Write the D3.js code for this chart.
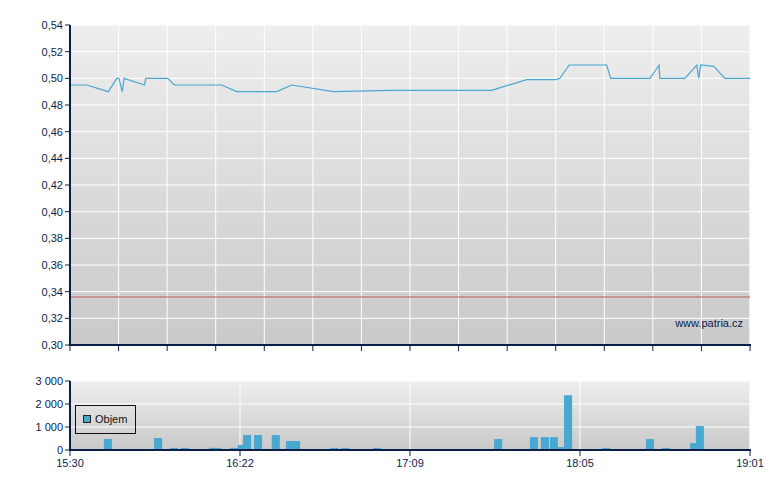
<!DOCTYPE html>
<html lang="en">
<head>
  <meta charset="UTF-8">
  <title>patria intraday</title>
  <script src="https://d3js.org/d3.v7.min.js"></script>
  <style>
    body { margin: 0; background: white; }
    text { font-family: "Liberation Sans", Arial, sans-serif; font-size: 11px; fill: #0a1e4a; }
    .grid { stroke: white; stroke-width: 1px; }
    .axis { stroke: #0a1e4a; stroke-width: 2px; }
    .tick { stroke: #0a1e4a; stroke-width: 1px; }
  </style>
</head>
<body>
  <svg id="chart" width="780" height="490"></svg>

  <script>
    // price line: minutes after 15:30 and price
    const priceMinutes = [0, 5.2, 11.9, 14.5, 15.2, 16.2, 16.8, 23.1, 23.5, 30.3, 32.4, 47.1, 51.7, 64.1, 68.8, 81.7,
      99.3, 130.8, 141.7, 151.0, 152.0, 154.9, 166.5, 167.8, 180.0, 182.8, 183.0, 190.8, 194.5, 195.1, 195.7, 199.8, 203.2, 211];
    const priceValues = [0.495, 0.495, 0.49, 0.50, 0.50, 0.49, 0.50, 0.495, 0.50, 0.50, 0.495, 0.495, 0.49, 0.49, 0.495, 0.49,
      0.491, 0.491, 0.499, 0.499, 0.50, 0.51, 0.51, 0.50, 0.50, 0.51, 0.50, 0.50, 0.51, 0.50, 0.51, 0.509, 0.50, 0.50];
    const prevClose = 0.336;

    // volume bars: minutes after 15:30 and volume
    const volMinutes = [10.5, 21.7, 26.1, 31.0, 34.4, 43.1, 44.4, 49.6, 52.1, 53.7, 57.1, 62.6, 67.0, 68.9, 80.7, 84.1,
      94.0, 98.1, 114.2, 129.1, 131.6, 140.3, 142.7, 146.1, 148.9, 150.8, 153.9, 153.3, 165.1, 167.6, 170.0, 174.1,
      176.3, 178.7, 181.5, 183.7, 186.2, 189.6, 191.7, 192.4, 194.2, 197.7, 198.9, 201.7, 205.7, 208.5];
    const volValues = [480, 40, 520, 90, 90, 90, 90, 90, 220, 650, 650, 650, 390, 390, 90, 90,
      90, 40, 40, 40, 475, 40, 560, 560, 560, 130, 40, 2380, 90, 40, 40, 40,
      40, 475, 40, 90, 40, 40, 40, 300, 1040, 40, 40, 40, 40, 40];

    const timeLabels = ["15:30", "16:22", "17:09", "18:05", "19:01"];
    const totalMinutes = 211;
    const barMinutes = 2.5;

    const svg = d3.select("#chart");
    const left = 70, right = 750;
    const top1 = 25, bottom1 = 345;
    const top2 = 381, bottom2 = 450;

    const locale = d3.formatLocale({ decimal: ",", thousands: "\u00a0", grouping: [3], currency: ["", ""] });
    const fmtPrice = locale.format(".2f");
    const fmtVol = locale.format(",d");

    const x = d3.scaleLinear().domain([0, totalMinutes]).range([left, right]);
    const y = d3.scaleLinear().domain([0.30, 0.54]).range([bottom1, top1]);
    const yv = d3.scaleLinear().domain([0, 3000]).range([bottom2, top2]);

    // background gradient
    const defs = svg.append("defs");
    const grad = defs.append("linearGradient").attr("id", "bg")
      .attr("x1", 0).attr("y1", 0).attr("x2", 0).attr("y2", 1);
    grad.append("stop").attr("offset", "0%").attr("stop-color", "#eeeeee");
    grad.append("stop").attr("offset", "100%").attr("stop-color", "#c9c9c9");
    defs.append("clipPath").attr("id", "clip2").append("rect")
      .attr("x", left).attr("y", top2).attr("width", right - left).attr("height", bottom2 - top2);

    // ---- price panel
    const p1 = svg.append("g");
    p1.append("rect").attr("x", left).attr("y", top1).attr("width", right - left).attr("height", bottom1 - top1)
      .attr("fill", "url(#bg)").attr("stroke", "#f6f6f6");

    const yTicks = d3.range(0.30, 0.5401, 0.02);
    const xTicks1 = d3.range(15).map(i => i * totalMinutes / 14);

    p1.selectAll(".hg").data(yTicks.slice(1)).join("line").attr("class", "grid")
      .attr("x1", left).attr("x2", right).attr("y1", d => y(d)).attr("y2", d => y(d));
    p1.selectAll(".vg").data(xTicks1.slice(1)).join("line").attr("class", "grid")
      .attr("y1", top1).attr("y2", bottom1).attr("x1", d => x(d)).attr("x2", d => x(d));

    p1.append("line").attr("x1", left).attr("x2", right)
      .attr("y1", y(prevClose)).attr("y2", y(prevClose))
      .attr("stroke", "#c05a5a").attr("stroke-width", 1);

    const line = d3.line().x((d, i) => x(priceMinutes[i])).y(d => y(d));
    p1.append("path").datum(priceValues).attr("d", line)
      .attr("fill", "none").attr("stroke", "#4aa6d2").attr("stroke-width", 1.2);

    p1.append("text").attr("x", 743).attr("y", 327).attr("text-anchor", "end").text("www.patria.cz");

    p1.append("line").attr("class", "axis").attr("x1", left).attr("x2", left).attr("y1", top1).attr("y2", bottom1 + 1);
    p1.append("line").attr("class", "axis").attr("x1", left - 1).attr("x2", right + 1).attr("y1", bottom1).attr("y2", bottom1);
    p1.selectAll(".yt").data(yTicks).join("line").attr("class", "tick")
      .attr("x1", left - 5).attr("x2", left).attr("y1", d => y(d)).attr("y2", d => y(d));
    p1.selectAll(".yl").data(yTicks).join("text")
      .attr("x", left - 7).attr("y", d => y(d) + 4).attr("text-anchor", "end").text(d => fmtPrice(d));
    p1.selectAll(".xt").data(xTicks1).join("line").attr("class", "tick")
      .attr("y1", bottom1).attr("y2", bottom1 + 6).attr("x1", d => x(d)).attr("x2", d => x(d));

    // ---- volume panel
    const p2 = svg.append("g");
    p2.append("rect").attr("x", left).attr("y", top2).attr("width", right - left).attr("height", bottom2 - top2)
      .attr("fill", "url(#bg)").attr("stroke", "#f6f6f6");

    const vTicks = [0, 1000, 2000, 3000];
    const xTicks2 = timeLabels.map((d, i) => i * totalMinutes / (timeLabels.length - 1));

    p2.selectAll(".hg").data(vTicks.slice(1)).join("line").attr("class", "grid")
      .attr("x1", left).attr("x2", right).attr("y1", d => yv(d)).attr("y2", d => yv(d));
    p2.selectAll(".vg").data(xTicks2.slice(1)).join("line").attr("class", "grid")
      .attr("y1", top2).attr("y2", bottom2).attr("x1", d => x(d)).attr("x2", d => x(d));

    p2.append("g").attr("clip-path", "url(#clip2)")
      .selectAll("rect").data(volValues).join("rect")
      .attr("x", (d, i) => x(volMinutes[i]))
      .attr("width", (d, i) => x(volMinutes[i] + barMinutes) - x(volMinutes[i]))
      .attr("y", d => yv(d))
      .attr("height", d => yv(0) - yv(d))
      .attr("fill", "#48a8d0");

    // legend
    p2.append("rect").attr("x", 75.5).attr("y", 405.5).attr("width", 60).attr("height", 28)
      .attr("fill", "none").attr("stroke", "#111");
    p2.append("rect").attr("x", 83.5).attr("y", 415.5).attr("width", 7).attr("height", 7)
      .attr("fill", "#48a8d0").attr("stroke", "#222");
    p2.append("text").attr("x", 95).attr("y", 423).style("fill", "#111").text("Objem");

    p2.append("line").attr("class", "axis").attr("x1", left).attr("x2", left).attr("y1", top2).attr("y2", bottom2 + 1);
    p2.append("line").attr("class", "axis").attr("x1", left - 1).attr("x2", right + 1).attr("y1", bottom2).attr("y2", bottom2);
    p2.selectAll(".yt").data(vTicks).join("line").attr("class", "tick")
      .attr("x1", left - 5).attr("x2", left).attr("y1", d => yv(d)).attr("y2", d => yv(d));
    p2.selectAll(".yl").data(vTicks).join("text")
      .attr("x", left - 7).attr("y", d => yv(d) + 4).attr("text-anchor", "end").text(d => fmtVol(d));
    p2.selectAll(".xt").data(xTicks2).join("line").attr("class", "tick")
      .attr("y1", bottom2).attr("y2", bottom2 + 6).attr("x1", d => x(d)).attr("x2", d => x(d));
    p2.selectAll(".xl").data(timeLabels).join("text")
      .attr("x", (d, i) => x(xTicks2[i])).attr("y", bottom2 + 17).attr("text-anchor", "middle").text(d => d);
  </script>
</body>
</html>
